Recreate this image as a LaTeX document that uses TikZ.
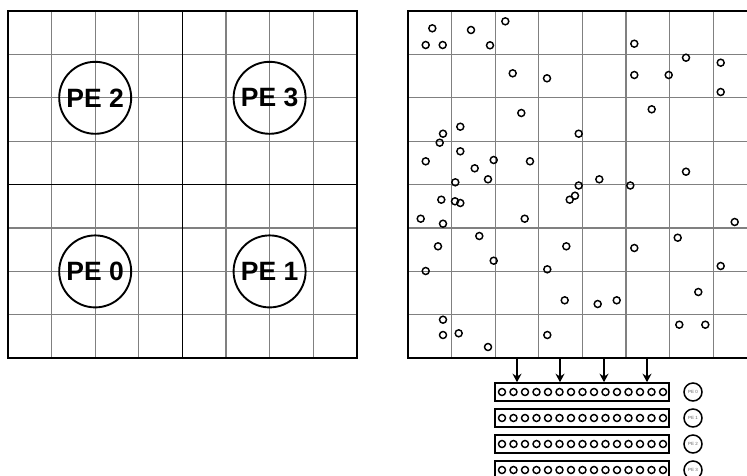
\documentclass[tikz,border=0pt]{standalone}
\usepackage{fontspec}
\setmainfont{Liberation Sans}
\usetikzlibrary{arrows.meta}
\begin{document}
\begin{tikzpicture}[x=1pt,y=-1pt,
  thin grid/.style={draw=black!50,line width=1.2pt},
  thick border/.style={draw=black,line width=1.8pt},
  pebig/.style={circle,draw=black,line width=1.9pt,minimum size=72pt,inner sep=0pt,
    font=\bfseries\fontsize{26.5}{26.5}\selectfont},
  pesmall/.style={circle,draw=black,line width=1.5pt,minimum size=18pt,inner sep=0pt,
    text=black!60,font=\fontsize{4.5}{4.5}\selectfont},
  dot/.style={circle,draw=black,line width=1.45pt,minimum size=7pt,inner sep=0pt},
  barbox/.style={draw=black,line width=1.6pt,minimum width=174pt,minimum height=18pt,inner sep=0pt},
  feed/.style={line width=1.5pt,-{Stealth[length=8.5pt,width=9pt]}}]
\useasboundingbox (0,0) rectangle (747,475);
\clip (0,0) rectangle (747,475);
\fill[white] (0,0) rectangle (747,475);
% ---------- left grid ----------
\foreach \k in {1,...,7} {
  \draw[thin grid] ({8+43.6*\k},11) -- ({8+43.6*\k},358.2);
  \draw[thin grid] (8,{11+43.4*\k}) -- (356.8,{11+43.4*\k});
}
\draw[thick border] (8,11) rectangle (356.8,358.2);
\draw[draw=black,line width=1.4pt] (182.4,11) -- (182.4,358.2);
\draw[draw=black,line width=1.4pt] (8,184.6) -- (356.8,184.6);
\node[pebig] (pe2) at (95.2,97.8) {PE 2};
\node[pebig] (pe3) at (269.6,97.8) {PE 3};
\node[pebig] (pe0) at (95.2,271.4) {PE 0};
\node[pebig] (pe1) at (269.6,271.4) {PE 1};
% ---------- right grid ----------
\foreach \k in {1,...,7} {
  \draw[thin grid] ({408+43.6*\k},11) -- ({408+43.6*\k},358.2);
  \draw[thin grid] (408,{11+43.4*\k}) -- (760,{11+43.4*\k});
}
\draw[thick border] (760,11) -- (408,11) -- (408,358.2) -- (760,358.2);
\foreach \x/\y in {
 432.3/28.3, 471/30, 505.3/21.3, 425.7/45, 442.7/45, 490/45.3, 634.3/43.7, 686/57.7,
 720.7/62.7, 512.7/73.3, 547/78.3, 634.3/75, 668.7/75, 720.7/92, 651.7/109.3, 521.3/113,
 460.3/126.7, 443/133.7, 439.7/142.7, 578.7/133.7, 460.3/151.3, 425.7/161.3, 474.7/168.3,
 493.7/160, 530/161.3, 686/171.7, 455.3/182.3, 488/179.3, 578.7/185.5, 599.3/179.3,
 630.3/185.5, 441.3/199.7, 455/201.3, 460.3/203, 575/195.7, 569.7/199.7, 420.7/218.7,
 443/223.7, 524.7/218.7, 734.7/222, 479.3/236, 438/246.3, 493.7/260.7, 425.7/271,
 566.3/246.3, 634.3/248, 677.7/237.7, 720.7/266, 547.3/269.3, 698.3/292, 564.7/300.3,
 597.7/304, 616.7/300.3, 443/319.7, 443/335, 458.7/333.3, 488/347, 547.3/335,
 679.3/324.7, 705.3/324.7} {
  \node[dot] at (\x,\y) {};
}
% ---------- bars ----------
\foreach \i in {0,...,3} {
  \node[barbox] (bar\i) at (582,{392+26*\i}) {};
  \foreach \j in {0,...,14} {
    \node[dot] at ({502+11.5*\j},{392+26*\i}) {};
  }
  \node[pesmall] (spe\i) at (693,{392+26*\i}) {PE \i};
}
% ---------- arrows ----------
\foreach \x [count=\n] in {517,560,604,647} {
  \coordinate (src\n) at (\x,358.2);
  \draw[feed] (src\n) -- (src\n |- bar0.north);
}
\end{tikzpicture}
\end{document}
